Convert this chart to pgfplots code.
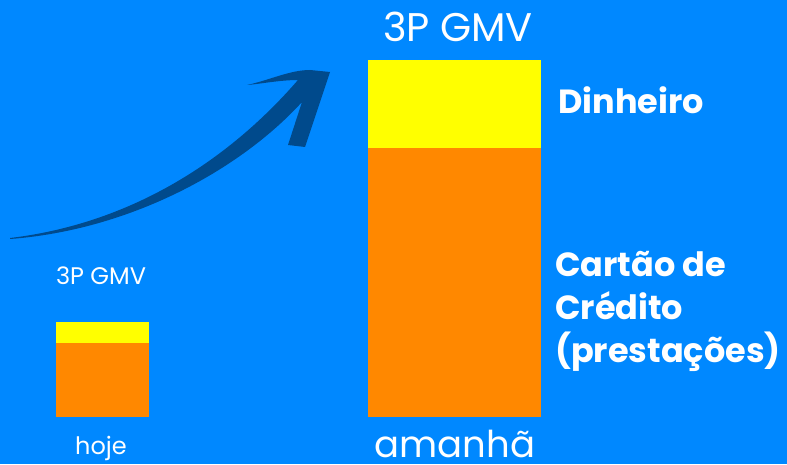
\documentclass[border=0pt]{standalone}
\usepackage{fontspec}
\setmainfont{Poppins}
\usepackage{pgfplots}
\pgfplotsset{compat=1.18}

\definecolor{bgblue}{RGB}{0,136,255}
\definecolor{arrowblue}{RGB}{0,74,140}
\definecolor{barorange}{RGB}{255,136,0}
\definecolor{baryellow}{RGB}{255,255,0}

\begin{document}
\begin{tikzpicture}
  \fill[bgblue] (0,0) rectangle (787pt,464pt);
  \begin{axis}[
    ybar stacked,
    scale only axis,
    width=787pt, height=464pt,
    xmin=0, xmax=787,
    ymin=-47, ymax=417,
    hide axis,
    clip=false,
  ]
    % hoje bar (width 93), then amanha bar (width 173)
    \addplot[fill=barorange, draw=none, bar width=93] coordinates {(102.5,74) (454.5,0)};
    \addplot[fill=baryellow, draw=none, bar width=93] coordinates {(102.5,21) (454.5,0)};
    \addplot[fill=barorange, draw=none, bar width=173] coordinates {(102.5,0) (454.5,269)};
    \addplot[fill=baryellow, draw=none, bar width=173] coordinates {(102.5,0) (454.5,88)};

    % curved arrow (pixel coords, y = 417 - py)
    \fill[arrowblue]
      (axis cs:10,179)
      .. controls (axis cs:120,192) and (axis cs:220,247) .. (axis cs:298,337)
      .. controls (axis cs:280,337) and (axis cs:260,333) .. (axis cs:247,332)
      .. controls (axis cs:270,337) and (axis cs:290,347) .. (axis cs:310,347)
      -- (axis cs:330,345) -- (axis cs:305,270) -- (axis cs:288,272) -- (axis cs:302,315)
      .. controls (axis cs:240,247) and (axis cs:130,187) .. (axis cs:10,178) -- cycle;

    \node[anchor=base, inner sep=0, text=white, font=\fontsize{40}{40}\selectfont] at (axis cs:458,375) {3P GMV};
    \node[anchor=base, inner sep=0, text=white, font=\fontsize{24}{24}\selectfont] at (axis cs:101,132) {3P GMV};
    \node[anchor=base, inner sep=0, text=white, font=\fontsize{24}{24}\selectfont] at (axis cs:101,-37) {hoje};
    \node[anchor=base, inner sep=0, text=white, font=\fontsize{37}{37}\selectfont] at (axis cs:455,-40) {amanhã};
    \node[anchor=base west, inner sep=0, text=white, font=\fontsize{33.5}{33.5}\selectfont\bfseries] at (axis cs:558,303) {Dinheiro};
    \node[anchor=base west, inner sep=0, text=white, font=\fontsize{33.5}{33.5}\selectfont\bfseries] at (axis cs:555,141) {Cartão de};
    \node[anchor=base west, inner sep=0, text=white, font=\fontsize{33.5}{33.5}\selectfont\bfseries] at (axis cs:555,98) {Crédito};
    \node[anchor=base west, inner sep=0, text=white, font=\fontsize{33.5}{33.5}\selectfont\bfseries] at (axis cs:555,55) {(prestações)};
  \end{axis}
  \pgfresetboundingbox
  \path[use as bounding box] (0,0) rectangle (787pt,464pt);
\end{tikzpicture}
\end{document}
